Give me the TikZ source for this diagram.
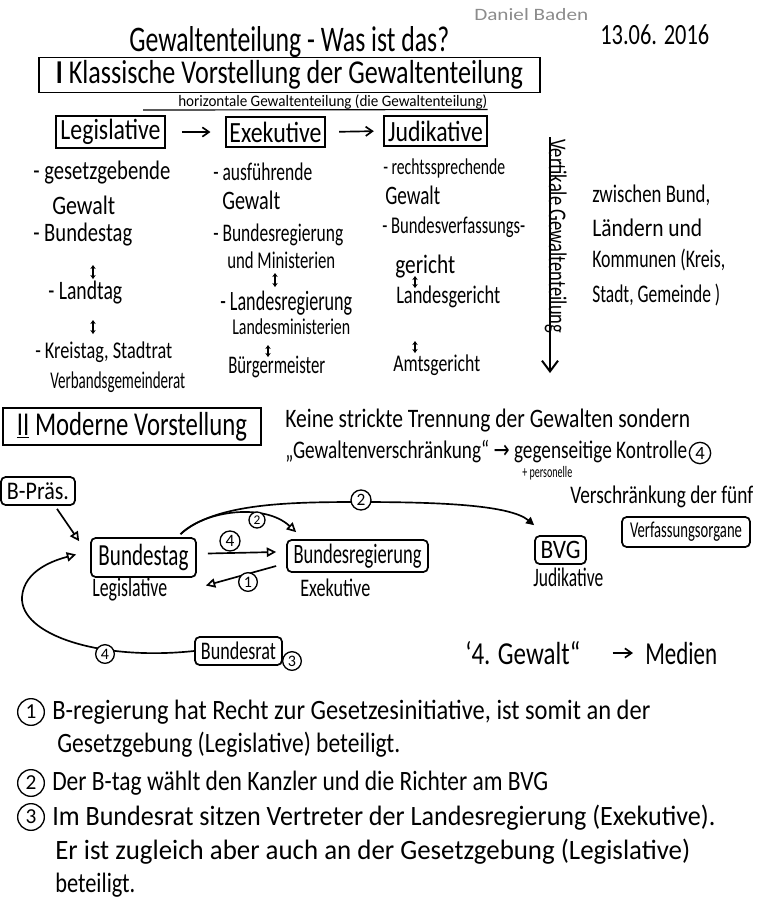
\documentclass[tikz,border=0pt]{standalone}
\usepackage{fontspec}
\setmainfont{Carlito}
\newfontfamily\symf{DejaVu Sans}
\usepackage{graphicx}
\usetikzlibrary{arrows.meta,calc}
\newlength\pxu \setlength\pxu{0.75pt}
\newcommand\fw[2]{\resizebox{#1\pxu}{\height}{#2}}
\tikzset{
  fs/.style={font=\fontsize{#1}{#1}\selectfont},
  tx/.style={anchor=west, inner sep=0pt},
  pen/.style={line width=1.25pt},
  sbox/.style={draw, line width=1.3pt, inner sep=0pt},
  rbox/.style={draw, rounded corners=3.5pt, line width=1.3pt, inner sep=0pt},
  circ/.style={circle, draw, line width=1pt, inner sep=0pt, minimum size=#1, fill=white},
  circ/.default=12pt,
  arr/.style={pen, -{Straight Barb[length=5pt,width=7pt]}},
  oarr/.style={pen, -{Triangle[open,length=7pt,width=7pt]}},
  farr/.style={pen, -{Triangle[length=6pt,width=6pt]}},
  dbl/.style={line width=1pt, {Stealth[length=3pt,width=4pt]}-{Stealth[length=3pt,width=4pt]}},
}
\begin{document}
\begin{tikzpicture}[x=0.75pt,y=-0.75pt]
\useasboundingbox[fill=white] (0,0) rectangle (762,915);

% header
\node[tx, fs=13, text=black!45] (name) at (474,15) {\fw{114}{Daniel Baden}};
\node[tx, fs=22] (date) at (600,35) {\fw{109}{13.06. 2016}};
\node[tx, fs=27] (title) at (129,42) {\fw{320}{Gewaltenteilung - Was ist das?}};
\node[sbox, minimum width=375.75pt, minimum height=26.25pt, fs=25] (boxI) at (289.5,75)
  {\fw{467}{\textbf{I} Klassische Vorstellung der Gewaltenteilung}};
\node[tx, fs=12] (horiz) at (178,102) {\fw{309}{horizontale Gewaltenteilung (die Gewaltenteilung)}};
\draw[line width=0.9pt] (143,110) -- (horiz.south east);

% three powers
\node[sbox, minimum width=81.75pt, minimum height=24pt, fs=22] (leg) at (110.5,132) {\fw{100}{Legislative}};
\node[sbox, minimum width=74.25pt, minimum height=22.5pt, fs=22] (exe) at (275.5,132) {\fw{92}{Exekutive}};
\node[sbox, minimum width=77.25pt, minimum height=22.5pt, fs=22] (jud) at (435.5,131) {\fw{95}{Judikative}};
\draw[arr, shorten <=12pt, shorten >=11pt] (leg.east) -- (exe.west);
\draw[arr, shorten <=10pt, shorten >=7pt] (exe.east) -- (jud.west);

% column 1
\node[tx, fs=20] (c1a) at (33,173) {\fw{137}{- gesetzgebende}};
\node[tx, fs=20] (c1b) at (52,205) {\fw{63}{Gewalt}};
\node[tx, fs=20] (c1c) at (33,235) {\fw{99}{- Bundestag}};
\draw[dbl] (93,265) -- (93,279);
\node[tx, fs=20] (c1d) at (48,293) {\fw{74}{- Landtag}};
\draw[dbl] (93,320) -- (93,334);
\node[tx, fs=18] (c1e) at (35,352) {\fw{137}{- Kreistag, Stadtrat}};
\node[tx, fs=18] (c1f) at (50,382) {\fw{135}{Verbandsgemeinderat}};

% column 2
\node[tx, fs=19] (c2a) at (213,172) {\fw{99}{- ausführende}};
\node[tx, fs=20] (c2b) at (222,200) {\fw{58}{Gewalt}};
\node[tx, fs=19] (c2c) at (213,235) {\fw{130}{- Bundesregierung}};
\node[tx, fs=18] (c2d) at (227,260) {\fw{108}{und Ministerien}};
\draw[dbl] (275,273) -- (275,287);
\node[tx, fs=21] (c2e) at (220,303) {\fw{132}{- Landesregierung}};
\node[tx, fs=17] (c2f) at (232,327) {\fw{118}{Landesministerien}};
\draw[dbl] (268,345) -- (268,357);
\node[tx, fs=19] (c2g) at (228,367) {\fw{97}{Bürgermeister}};

% column 3
\node[tx, fs=17] (c3a) at (383,168) {\fw{122}{- rechtssprechende}};
\node[tx, fs=20] (c3b) at (385,195) {\fw{55}{Gewalt}};
\node[tx, fs=18] (c3c) at (382,227) {\fw{143}{- Bundesverfassungs-}};
\node[tx, fs=20] (c3d) at (395,267) {\fw{60}{gericht}};
\draw[dbl] (415,276) -- (415,288);
\node[tx, fs=19] (c3e) at (396,297) {\fw{104}{Landesgericht}};
\draw[dbl] (415,341) -- (415,353);
\node[tx, fs=18] (c3f) at (393,365) {\fw{87}{Amtsgericht}};

% vertical division
\coordinate (vt) at (550,137);
\coordinate (vb) at (550,373);
\draw[line width=1.5pt, -{Straight Barb[length=8pt,width=12pt]}] (vt) -- (vb);
\node[rotate=-90, anchor=base west, inner sep=0pt, fs=19] (vert) at (549,139) {\fw{194}{Vertikale Gewaltenteilung}};
\node[tx, fs=19] (r1) at (592,195) {\fw{118}{zwischen Bund,}};
\node[tx, fs=19] (r2) at (592,228) {\fw{110}{Ländern und}};
\node[tx, fs=19] (r3) at (592,260) {\fw{133}{Kommunen (Kreis,}};
\node[tx, fs=19] (r4) at (592,295) {\fw{128}{Stadt, Gemeinde )}};

% section II
\node[sbox, minimum width=193.5pt, minimum height=27.75pt, fs=25] (boxII) at (132,426.5)
  {\fw{230}{\underline{II} Moderne Vorstellung}};
\node[tx, fs=20] (k1) at (285,421) {\fw{405}{Keine strickte Trennung der Gewalten sondern}};
\node[tx, fs=19] (k2) at (285,452) {\fw{402}{„Gewaltenverschränkung“ {\symf →} gegenseitige Kontrolle}};
\node[circ=16pt, fs=14] (k2c) at (700,453) {4};
\node[tx, fs=12] (k3) at (522,473) {\fw{50}{+ personelle}};
\node[tx, fs=19] (k4) at (570,497) {\fw{183}{Verschränkung der fünf}};
\node[rbox, minimum width=96pt, minimum height=22.5pt, fs=17] (vo) at (686,532) {\fw{112}{Verfassungsorgane}};

% diagram
\node[rbox, minimum width=55.5pt, minimum height=21pt, fs=19] (bp) at (38,491) {\fw{62}{B-Präs.}};
\node[rbox, minimum width=78.75pt, minimum height=29.25pt, fs=23] (bt) at (143.5,557.5) {\fw{90}{Bundestag}};
\node[tx, fs=20] (legl) at (92,590) {\fw{75}{Legislative}};
\node[rbox, minimum width=105.75pt, minimum height=24pt, fs=21] (br) at (357.5,556) {\fw{128}{Bundesregierung}};
\node[tx, fs=19] (exl) at (300,588) {\fw{70}{Exekutive}};
\node[rbox, minimum width=38.25pt, minimum height=21pt, fs=20] (bvg) at (560.5,550) {\fw{40}{BVG}};
\node[tx, fs=20] (jdl) at (533,577) {\fw{70}{Judikative}};
\node[rbox, minimum width=65.25pt, minimum height=21pt, fs=19] (brat) at (238.5,651) {\fw{75}{Bundesrat}};
\node[circ=14pt, fs=12] (n3) at (292,661) {3};

\draw[oarr] ($(bp.south)+(19,3)$) -- ($(bt.north west)+(-11,4)$);
\draw[oarr] ($(bt.east)+(11,-4)$) -- ($(br.west)+(-10,-4)$);
\node[circ=15pt, fs=13] (n4a) at (230,541) {4};
\draw[oarr] ($(br.west)+(-10,10)$) -- ($(bt.east)+(9,28)$);
\node[circ=14pt, fs=12] (n1) at (248,582) {1};
\draw[oarr] ($(bt.north)+(37,-3)$) .. controls (205,510) and (265,503) .. ($(br.north west)+(10,-7)$);
\node[circ=12pt, fs=10] (n2a) at (257,520) {2};
\draw[farr] ($(bt.north)+(37,-3)$) .. controls (215,503) and (290,502) .. (360,502)
  .. controls (440,502) and (510,505) .. ($(bvg.north west)+(0,-10)$);
\node[circ=15pt, fs=13] (n2b) at (361,500) {2};
\draw[oarr] (brat.west) .. controls (100,661) and (20,635) .. (22,597)
  .. controls (24,570) and (55,560) .. ($(bt.west)+(-14,-3)$);
\node[circ=14pt, fs=12] (n4b) at (105,654) {4};

\node[tx, fs=24] (g4) at (465,653) {\fw{115}{‘4. Gewalt“}};
\node[tx, fs=24] (med) at (645,653) {\fw{72}{Medien}};
\draw[arr, shorten <=24pt, shorten >=9pt] (g4.east) -- (med.west);

% footnotes
\node[circ=20pt, fs=16] (f1c) at (31,712) {1};
\node[tx, fs=21] (f1) at (52,712) {\fw{598}{B-regierung hat Recht zur Gesetzesinitiative, ist somit an der}};
\node[tx, fs=21] (f1b) at (57,745) {\fw{343}{Gesetzgebung (Legislative) beteiligt.}};
\node[circ=20pt, fs=16] (f2c) at (31,783) {2};
\node[tx, fs=21] (f2) at (52,783) {\fw{496}{Der B-tag wählt den Kanzler und die Richter am BVG}};
\node[circ=20pt, fs=16] (f3c) at (31,817) {3};
\node[tx, fs=21] (f3) at (52,818) {\fw{663}{Im Bundesrat sitzen Vertreter der Landesregierung (Exekutive).}};
\node[tx, fs=21] (f3b) at (55,852) {\fw{635}{Er ist zugleich aber auch an der Gesetzgebung (Legislative)}};
\node[tx, fs=21] (f3d) at (55,885) {\fw{80}{beteiligt.}};
\end{tikzpicture}
\end{document}
